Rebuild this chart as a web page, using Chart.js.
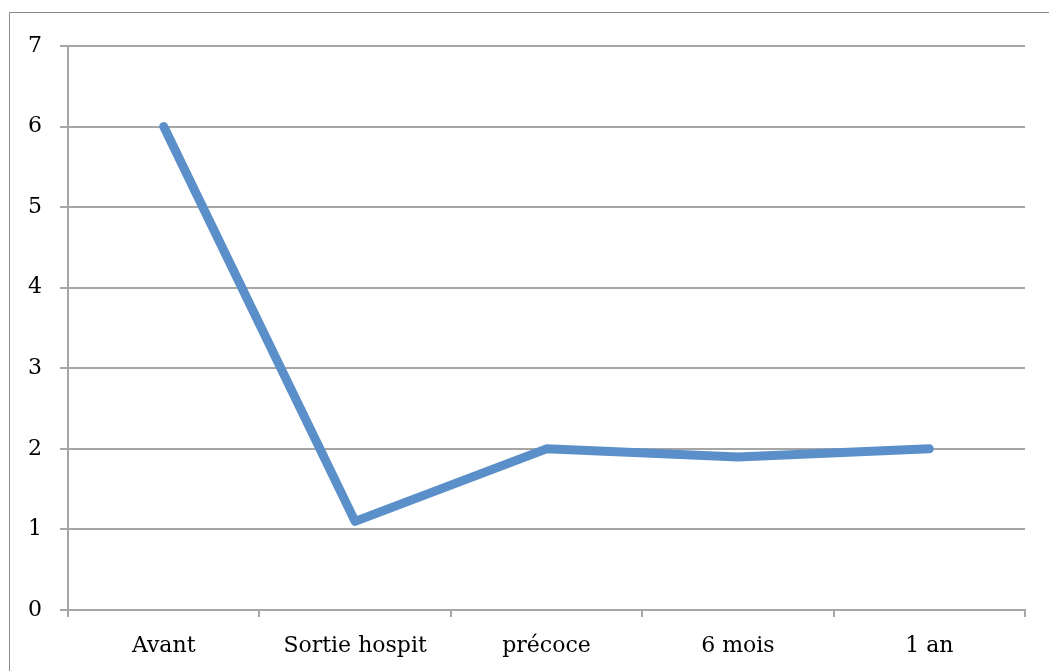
<!DOCTYPE html>
<html>
<head>
<meta charset="utf-8">
<script src="https://cdn.jsdelivr.net/npm/chart.js@4"></script>
<style>
  html, body { margin: 0; padding: 0; background: #fff; overflow: hidden; }
  #frame { position: absolute; left: 9px; top: 12px; width: 1200px; height: 800px; border: 1px solid #8c8c8c; }
  #wrap { position: absolute; left: 0; top: 0; width: 1049px; height: 671px; }
</style>
</head>
<body>
<div id="frame"></div>
<div id="wrap"><canvas id="chart" width="1049" height="671"></canvas></div>
<script>
// categories and values
const categories = ['Avant', 'Sortie hospit', 'précoce', '6 mois', '1 an'];
const values = [6, 1.1, 2, 1.9, 2];
const yTicks = [0, 1, 2, 3, 4, 5, 6, 7];

const gridGray = '#a6a6a6';
const labelFont = { family: 'DejaVu Serif', size: 22 };
const ctx = document.getElementById('chart').getContext('2d');

new Chart(ctx, {
    type: 'line',
    data: {
        labels: categories,
        datasets: [{
            data: values,
            borderColor: '#5b8fc9',
            borderWidth: 9,
            borderCapStyle: 'round',
            borderJoinStyle: 'round',
            pointRadius: 0,
            tension: 0,
            fill: false
        }]
    },
    options: {
        responsive: false,
        animation: false,
        layout: { padding: { top: 46, right: 24, left: 0, bottom: 0 } },
        plugins: { legend: { display: false }, tooltip: { enabled: false } },
        scales: {
            x: {
                offset: true,
                grid: { offset: true, drawOnChartArea: false, drawTicks: true, tickLength: 7, color: gridGray, lineWidth: 2 },
                border: { color: gridGray, width: 2 },
                ticks: { color: '#000', padding: 16, font: labelFont },
                afterFit: s => { s.height = 61; }
            },
            y: {
                min: 0,
                max: 7,
                afterBuildTicks: s => { s.ticks = yTicks.map(v => ({ value: v })); },
                grid: { color: gridGray, lineWidth: 2, tickLength: 8 },
                border: { color: gridGray, width: 2 },
                ticks: { color: '#000', padding: 18, font: labelFont },
                afterFit: s => { s.width = 68; }
            }
        }
    }
});
</script>
</body>
</html>
